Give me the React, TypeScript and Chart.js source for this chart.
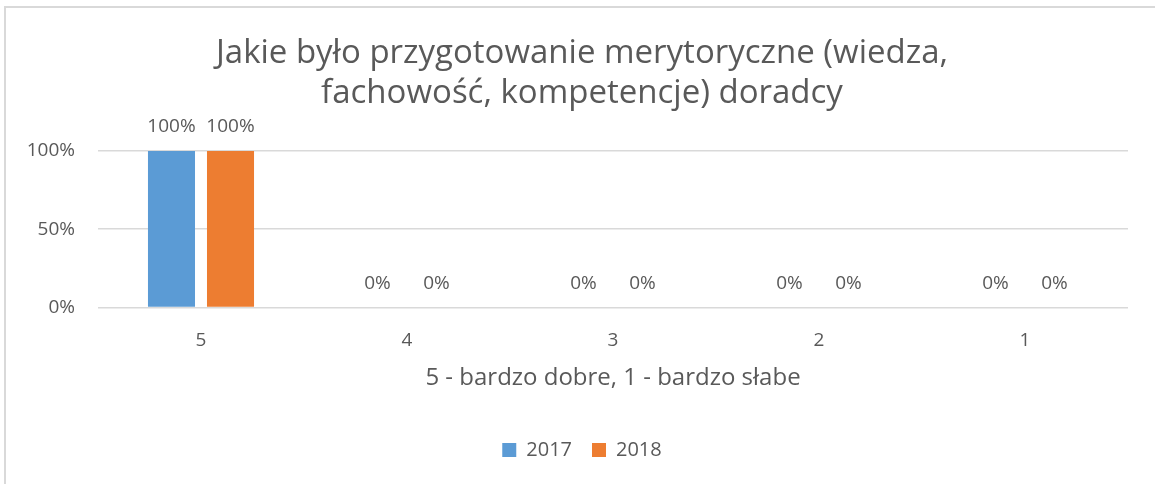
import React, { useEffect, useRef } from "react";
import { Chart, registerables } from "chart.js";

Chart.register(...registerables);

const categories = ["5", "4", "3", "2", "1"];
const series2017 = [1, 0, 0, 0, 0];
const series2018 = [1, 0, 0, 0, 0];
const seriesLabels = ["2017", "2018"];
const yTicks = [0, 0.5, 1];
const titleLines = [
  "Jakie było przygotowanie merytoryczne (wiedza,",
  "fachowość, kompetencje) doradcy",
];
const xTitle = "5 - bardzo dobre, 1 - bardzo słabe";

const FONT = "'Open Sans'";
const TEXT = "#595959";

const dataLabelPlugin = {
  id: "dataLabels",
  afterLayout(chart: any) {
    // let the y-axis tick labels extend into the left padding without clipping
    const y = chart.scales.y;
    if (y) y.left = 0;
  },
  afterDatasetsDraw(chart: any) {
    const ctx = chart.ctx;
    ctx.save();
    ctx.font = `19px ${FONT}`;
    ctx.fillStyle = TEXT;
    ctx.textAlign = "center";
    ctx.textBaseline = "middle";
    chart.data.datasets.forEach((ds: any, i: number) => {
      const meta = chart.getDatasetMeta(i);
      meta.data.forEach((el: any, j: number) => {
        const v = ds.data[j];
        ctx.fillText(Math.round(v * 100) + "%", el.x, el.y - 24);
      });
    });
    ctx.restore();
  },
};

export default function App() {
  const ref = useRef<HTMLCanvasElement | null>(null);
  useEffect(() => {
    if (!ref.current) return;
    const chart = new Chart(ref.current, {
      type: "bar",
      data: {
        labels: categories,
        datasets: [
          {
            label: seriesLabels[0],
            data: series2017,
            backgroundColor: "#5b9bd5",
            categoryPercentage: 0.573,
            barPercentage: 0.797,
          },
          {
            label: seriesLabels[1],
            data: series2018,
            backgroundColor: "#ed7d31",
            categoryPercentage: 0.573,
            barPercentage: 0.797,
          },
        ],
      },
      plugins: [dataLabelPlugin],
      options: {
        responsive: false,
        animation: false,
        layout: { padding: { left: 36, right: 27, top: 0, bottom: 14 } },
        plugins: {
          title: {
            display: true,
            text: titleLines,
            color: TEXT,
            font: { family: FONT, size: 33, weight: "normal", lineHeight: 40 / 33 },
            padding: { top: 34, bottom: 37 },
          },
          legend: {
            position: "bottom",
            labels: {
              color: TEXT,
              font: { family: FONT, size: 20 },
              boxWidth: 14,
              boxHeight: 14,
              padding: 20,
            },
          },
          tooltip: { enabled: false },
        },
        scales: {
          x: {
            grid: { display: false, drawTicks: false },
            border: { display: false },
            ticks: { color: TEXT, font: { family: FONT, size: 19 }, padding: 22 },
            title: {
              display: true,
              text: xTitle,
              color: TEXT,
              font: { family: FONT, size: 24 },
              padding: { top: -10, bottom: 27 },
            },
          },
          y: {
            min: 0,
            max: 1,
            afterBuildTicks: (axis: any) => {
              axis.ticks = yTicks.map((v) => ({ value: v }));
            },
            afterFit: (axis: any) => {
              axis.width = 62;
            },
            grid: { color: "#d9d9d9", lineWidth: 1.5, drawTicks: false },
            border: { display: false },
            ticks: {
              color: TEXT,
              font: { family: FONT, size: 19 },
              padding: 23,
              callback: (v: any) => Math.round(Number(v) * 100) + "%",
            },
          },
        },
      },
    });
    return () => chart.destroy();
  }, []);
  return (
    <div style={{ position: "fixed", left: 0, top: 0, width: 1155, height: 484, background: "#fff", overflow: "hidden" }}>
      <canvas ref={ref} width={1155} height={484} style={{ position: "absolute", left: 0, top: 0 }} />
      <div
        style={{
          position: "absolute",
          left: 4,
          top: 6,
          width: 1200,
          height: 520,
          borderLeft: "2px solid #d9d9d9",
          borderTop: "2px solid #d9d9d9",
          pointerEvents: "none",
        }}
      />
    </div>
  );
}
